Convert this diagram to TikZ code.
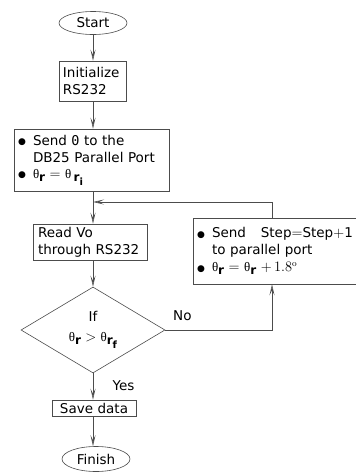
\documentclass[tikz,border=0pt]{standalone}
\usepackage[no-math]{fontspec}
\setmainfont{DejaVu Sans}
\newfontfamily\zerofont{DejaVu Sans Mono}
\newfontfamily\thetafont{Liberation Serif}
\usetikzlibrary{shapes.geometric,arrows.meta}

\tikzset{
  flow/.style={draw=black!70,line width=0.6pt},
  arr/.style={flow,-{Stealth[open,length=11pt,width=5pt,inset=5pt]}},
  box/.style={flow,rectangle,align=left,inner xsep=4pt,inner ysep=0pt,font=\fontsize{13.5}{17}\selectfont},
  term/.style={flow,ellipse,inner sep=0pt,font=\fontsize{13.5}{17}\selectfont},
  test/.style={flow,diamond,inner sep=0pt,shape aspect=1.67,align=center,font=\fontsize{13.5}{20}\selectfont},
  tag/.style={font=\fontsize{13.5}{17}\selectfont}
}
\newcommand{\blt}{\makebox[15pt][l]{\raisebox{0.5pt}{\fontsize{9}{9}\selectfont ●}}}
\newcommand{\ang}{{\thetafont\fontsize{13}{13}\selectfont θ}}
\newcommand{\sub}[1]{\raisebox{-3pt}{\fontsize{12}{12}\selectfont\bfseries #1}}
\newcommand{\subsub}[1]{\raisebox{-7pt}{\fontsize{10}{10}\selectfont\bfseries #1}}

\begin{document}
\begin{tikzpicture}[x=1pt,y=-1pt]
  \useasboundingbox (0,0) rectangle (356,472);
  \clip (0,0) rectangle (356,472);
  % main column
  \node[term,minimum width=68,minimum height=23] (start) at (93,23) {Start};
  \node[box,text width=59,minimum height=40] (init) at (92.5,81) {Initialize\\RS232};
  \node[box,text width=147,minimum height=62] (send) at (91.5,160) {\blt Send {\zerofont 0} to the\\\hspace{15pt}DB25 Parallel Port\\[-1pt]\blt \ang\sub{r} $=$ \ang\,\sub{r}\subsub{i}};
  \node[box,inner xsep=5pt,text width=104,minimum height=36] (read) at (90,242) {Read Vo\\through RS232};
  \node[test,minimum width=144,minimum height=86] (cond) at (93,330) {If\\\ang\sub{r} $>$ \ang\sub{r}\subsub{f}};
  \node[box,align=center,text width=76,minimum height=16] (save) at (94,408) {Save data};
  \node[term,minimum width=68,minimum height=25] (finish) at (96,459) {Finish};
  % side box
  \node[box,text width=169,minimum height=66] (step) at (281.5,251) {\blt Send\hspace{1.1em}Step$=$Step$+$1\\\hspace{15pt}to parallel port\\\blt \ang\sub{r} $=$ \ang\sub{r} $+\,1.8^{\mathrm{o}}$};
  \coordinate (join) at (93,202);

  \draw[arr] (start.south -| join) -- (init.north -| join);
  \draw[arr] (init.south -| join) -- (send.north -| join);
  \draw[arr] (send.south -| join) -- (read.north -| join);
  \draw[arr] (read.south -| join) -- (cond.north);
  \draw[arr] (cond.south) -- (save.north -| cond.south) node[tag,pos=0.45,right=16pt] {Yes};
  \draw[arr] (save.south -| cond.south) -- (finish.north -| cond.south);
  \draw[arr] (cond.east) -| ([xshift=-9.5pt]step.south) node[tag,pos=0.08,above=6pt] {No};
  \draw[arr] ([xshift=-9.5pt]step.north) |- (join);
\end{tikzpicture}
\end{document}
